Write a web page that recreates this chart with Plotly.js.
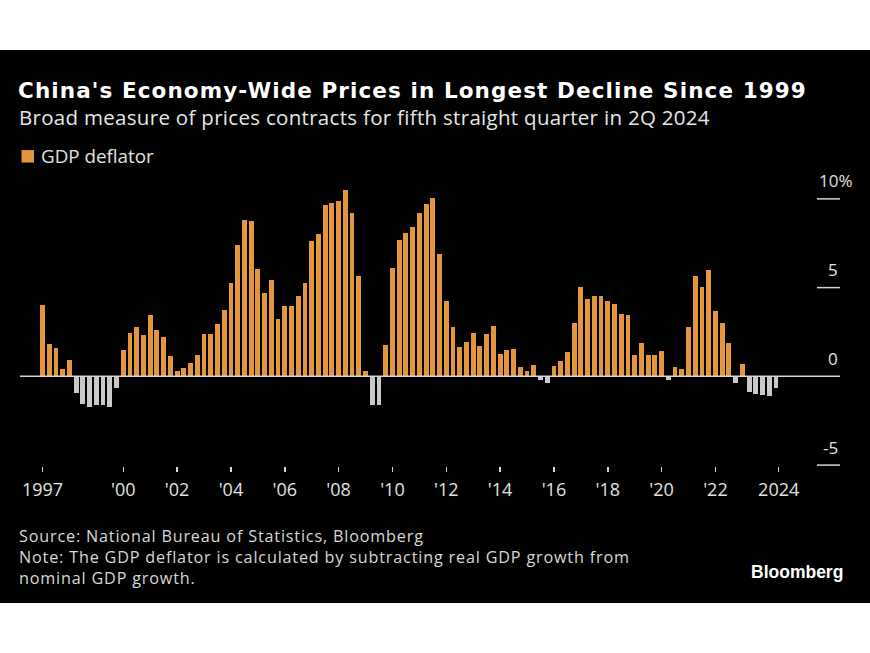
<!DOCTYPE html>
<html>
<head>
<meta charset="utf-8">
<script src="https://cdn.plot.ly/plotly-3.0.1.min.js"></script>
<style>
  html, body { margin: 0; padding: 0; background: #ffffff; width: 870px; height: 653px; overflow: hidden; }
  #chart { position: absolute; left: 0; top: 50px; width: 870px; height: 553px; }
  #chart .gtitle { letter-spacing: 1.1px; }
  #chart g.annotation[data-index="0"] text { letter-spacing: 0.3px; }
  #chart g.annotation[data-index="2"] text { letter-spacing: 0.82px; }
</style>
</head>
<body>
<div id="chart"></div>
<script>
// ---- Data (GDP deflator, % YoY, quarterly from 1997 Q1 to 2024 Q2) ----
const startYear = 1997;
const deflator = [
  4.03, 1.80, 1.60, 0.43,     // 1997
  0.90, -0.96, -1.54, -1.73,  // 1998
  -1.60, -1.60, -1.71, -0.64, // 1999
  1.49, 2.43, 2.79, 2.35,     // 2000
  3.47, 2.60, 2.22, 1.17,     // 2001
  0.30, 0.47, 0.75, 1.19,     // 2002
  2.37, 2.39, 2.96, 3.75,     // 2003
  5.25, 7.38, 8.83, 8.76,     // 2004
  6.05, 4.69, 5.44, 3.22,     // 2005
  3.94, 3.94, 4.52, 5.28,     // 2006
  7.63, 8.01, 9.64, 9.77,     // 2007
  9.87, 10.60, 9.21, 5.66,    // 2008
  0.28, -1.60, -1.60, 1.79,   // 2009
  6.09, 7.67, 8.05, 8.44,     // 2010
  9.21, 9.72, 10.04, 6.90,    // 2011
  4.25, 2.78, 1.64, 1.94,     // 2012
  2.43, 1.71, 2.37, 2.84,     // 2013
  1.28, 1.47, 1.52, 0.51,     // 2014
  0.32, 0.66, -0.23, -0.36,   // 2015
  0.58, 0.85, 1.39, 3.01,     // 2016
  5.01, 4.35, 4.52, 4.52,     // 2017
  4.22, 4.05, 3.52, 3.47,     // 2018
  1.22, 1.86, 1.21, 1.19,     // 2019
  1.45, -0.23, 0.55, 0.43,    // 2020
  2.77, 5.63, 5.03, 5.99,     // 2021
  3.71, 3.03, 1.86, -0.37,    // 2022
  0.71, -0.88, -0.99, -1.07,  // 2023
  -1.09, -0.66                // 2024
];
const tickYears = [1997, 2000, 2002, 2004, 2006, 2008, 2010, 2012, 2014, 2016, 2018, 2020, 2022, 2024];
const tickLabels = ['1997', "'00", "'02", "'04", "'06", "'08", "'10", "'12", "'14", "'16", "'18", "'20", "'22", '2024'];
const yTickValues = [10, 5, 0, -5];
const yTickLabels = ['10%', '5', '0', '-5'];
const seriesName = 'GDP deflator';
const footerLines = [
  'Source: National Bureau of Statistics, Bloomberg',
  'Note: The GDP deflator is calculated by subtracting real GDP growth from',
  'nominal GDP growth.'
];

// ---- Styling ----
const ORANGE = '#E4963D';
const GREY = '#C9C9C9';
const LINE = '#D6D6D6';
const TEXT = '#E2E2E2';
const REG = 'Open Sans, Liberation Sans, sans-serif';

// layout geometry helpers (absolute page pixels -> paper coords)
const PLOT_L = 20, PLOT_R = 840, PLOT_T = 190, PLOT_B = 466.5; // page coords
const px = x => (x - PLOT_L) / (PLOT_R - PLOT_L);
const py = y => (PLOT_B - y) / (PLOT_B - PLOT_T);

const idx = deflator.map((_, i) => i);
const quarterLabels = deflator.map((_, i) => (startYear + Math.floor(i / 4)) + ' Q' + (i % 4 + 1));
const colors = deflator.map(v => v >= 0 ? ORANGE : GREY);
const tickVals = tickYears.map((y, k) => (y - startYear) * 4 + (k === tickYears.length - 1 ? 1.4 : 0));

const trace = {
  type: 'bar',
  x: idx,
  y: deflator,
  name: seriesName,
  text: quarterLabels,
  hovertemplate: '%{text}: %{y:.1f}%<extra></extra>',
  textposition: 'none',
  marker: { color: colors, line: { width: 0 } },
  width: 0.72,
  showlegend: false
};

const shapes = [
  // zero line
  { type: 'line', xref: 'paper', yref: 'y', x0: 0, x1: 1, y0: 0, y1: 0, line: { color: LINE, width: 1.5 }, layer: 'above' },
  // legend swatch
  { type: 'rect', xref: 'paper', yref: 'paper', x0: px(21.5), x1: px(34), y0: py(162.5), y1: py(150), fillcolor: ORANGE, line: { width: 0 } }
];
yTickValues.forEach(v => {
  if (v !== 0) shapes.push({ type: 'line', xref: 'paper', yref: 'y', x0: px(817), x1: 1, y0: v, y1: v, line: { color: LINE, width: 1.5 } });
});

const annotations = [
  { text: 'Broad measure of prices contracts for fifth straight quarter in 2Q 2024', xref: 'paper', yref: 'paper', x: px(17), y: py(117), xanchor: 'left', yanchor: 'middle', align: 'left', showarrow: false, font: { family: REG, size: 20.5, color: '#E6E6E6' } },
  { text: seriesName, xref: 'paper', yref: 'paper', x: px(39), y: py(156), xanchor: 'left', yanchor: 'middle', align: 'left', showarrow: false, font: { family: REG, size: 18.8, color: TEXT } },
  { text: footerLines.join('<br>'), xref: 'paper', yref: 'paper', x: px(17), y: py(557.2), xanchor: 'left', yanchor: 'middle', align: 'left', showarrow: false, font: { family: REG, size: 16.2, color: '#D8D8D8' } },
  { text: '<b>Bloomberg</b>', xref: 'paper', yref: 'paper', x: px(845), y: py(573), xanchor: 'right', yanchor: 'middle', showarrow: false, font: { family: 'Liberation Sans, Arial, sans-serif', size: 17.5, color: '#FFFFFF' } }
];
yTickValues.forEach((v, k) => {
  const pct = yTickLabels[k].endsWith('%');
  annotations.push({
    text: yTickLabels[k], xref: 'paper', yref: 'y',
    x: pct ? px(817) : 1, xanchor: pct ? 'left' : 'right',
    y: v, yanchor: 'middle', yshift: 18, showarrow: false,
    font: { family: REG, size: 17, color: TEXT }
  });
});

const layout = {
  width: 870, height: 553,
  paper_bgcolor: '#000000', plot_bgcolor: '#000000',
  margin: { l: PLOT_L, r: 870 - PLOT_R, t: PLOT_T - 50, b: 603 - PLOT_B, pad: 0 },
  title: {
    text: "<b>China's Economy-Wide Prices in Longest Decline Since 1999</b>",
    xref: 'container', yref: 'container', x: 18 / 870, xanchor: 'left',
    y: 1 - 40 / 553, yanchor: 'middle',
    font: { family: 'DejaVu Sans, sans-serif', size: 21.5, color: '#FFFFFF' }
  },
  xaxis: {
    range: [-3.344, 118.51], showgrid: false, zeroline: false, showline: false,
    tickmode: 'array', tickvals: tickVals, ticktext: tickLabels,
    ticks: 'outside', ticklen: 5, tickwidth: 1.5, tickcolor: LINE, ticklabelstandoff: 2,
    tickfont: { family: REG, size: 18, color: TEXT }, fixedrange: true
  },
  yaxis: {
    range: [-5.05, 10.5], showgrid: false, zeroline: false, showline: false,
    showticklabels: false, ticks: '', fixedrange: true
  },
  bargap: 0,
  shapes: shapes,
  annotations: annotations,
  showlegend: false
};

Plotly.newPlot('chart', [trace], layout, { displayModeBar: false, staticPlot: true });
</script>
</body>
</html>
